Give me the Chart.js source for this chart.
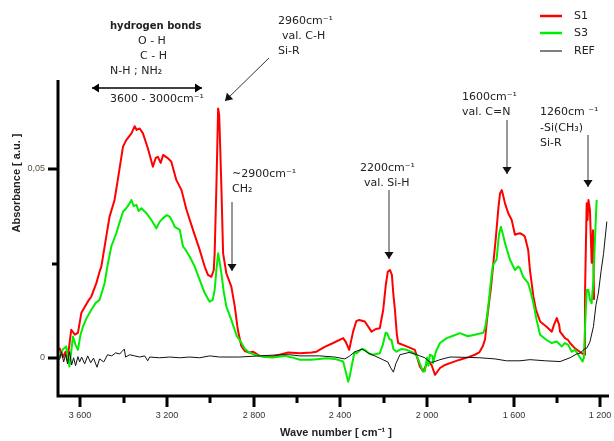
<!DOCTYPE html>
<html>
<head>
<meta charset="utf-8">
<script src="https://cdn.jsdelivr.net/npm/chart.js@4.4.1/dist/chart.umd.min.js"></script>
<style>
  html, body { margin: 0; padding: 0; background: #fff; }
  canvas { display: block; }
</style>
</head>
<body>
<canvas id="ir-chart" width="614" height="441"></canvas>
<script>
// values (wave number in cm-1, absorbance in a.u.)
const s1Wave = [3696,3680,3668,3659,3642,3625,3611,3595,3565,3549,3526,3511,3503,3483,3465,3442,3426,3403,3388,3364,3349,3340,3326,3311,3288,3265,3252,3242,3229,3218,3195,3180,3157,3133,3110,3080,3049,3026,3011,2995,2984,2980,2972,2964,2959,2954,2949,2941,2926,2903,2887,2873,2857,2841,2821,2803,2772,2713,2641,2587,2533,2510,2472,2433,2387,2375,2359,2341,2326,2313,2287,2256,2236,2218,2202,2190,2181,2171,2162,2155,2148,2139,2133,2094,2056,2033,2018,2005,1994,1979,1963,1940,1917,1894,1848,1812,1779,1759,1742,1732,1723,1714,1705,1694,1682,1670,1663,1655,1649,1640,1625,1609,1594,1585,1571,1557,1548,1533,1525,1509,1497,1486,1478,1448,1424,1414,1401,1390,1386,1363,1349,1340,1317,1286,1274,1271,1263,1259,1255,1248,1240,1234,1229];
const s1Abs = [0.0027,0.0003,0.0017,-0.0004,0.0075,0.0062,0.0067,0.012,0.015,0.0163,0.0198,0.0229,0.0242,0.0312,0.0374,0.0418,0.0475,0.0559,0.0576,0.0594,0.0613,0.0603,0.0607,0.0594,0.0554,0.0506,0.0529,0.0532,0.0516,0.0537,0.0528,0.0519,0.0471,0.0444,0.0392,0.0339,0.0286,0.0242,0.022,0.0215,0.0233,0.0277,0.0453,0.066,0.0642,0.055,0.0453,0.0277,0.0224,0.0189,0.0136,0.0075,0.0032,0.0019,0.0015,0.0017,0.0006,0.0004,0.0015,0.0013,0.0015,0.0017,0.003,0.004,0.0053,0.0043,0.0022,0.007,0.0098,0.0101,0.0097,0.007,0.0077,0.0079,0.0128,0.0194,0.0228,0.0233,0.022,0.0167,0.0128,0.0062,0.004,0.0031,0.0022,-0.0022,-0.0035,-0.002,-0.0009,-0.0018,-0.0044,-0.0026,-0.0018,-0.0013,-0.0004,0.0002,0.0009,0.0015,0.0032,0.005,0.0102,0.0145,0.0185,0.025,0.032,0.04,0.0435,0.0444,0.0431,0.0409,0.0383,0.0365,0.0326,0.0328,0.033,0.0326,0.0321,0.0286,0.0233,0.0163,0.0128,0.011,0.0097,0.0083,0.007,0.0088,0.0106,0.0088,0.007,0.0053,0.0048,0.004,0.0026,0.0013,0.0009,0.0163,0.0409,0.0365,0.0418,0.0392,0.0252,0.0338,0.0154];

const s3Wave = [3696,3682,3665,3650,3634,3622,3611,3599,3588,3571,3549,3529,3511,3488,3474,3457,3434,3418,3403,3388,3377,3364,3354,3341,3331,3318,3295,3272,3249,3234,3218,3201,3188,3174,3164,3141,3126,3114,3095,3072,3049,3026,3003,2989,2980,2972,2964,2957,2949,2938,2926,2903,2893,2878,2857,2841,2821,2795,2749,2713,2657,2623,2587,2533,2464,2426,2387,2375,2364,2356,2348,2335,2325,2301,2287,2264,2249,2218,2204,2191,2184,2173,2164,2155,2141,2119,2094,2065,2047,2029,2019,2010,2000,1993,1987,1975,1972,1959,1940,1909,1885,1848,1812,1779,1741,1732,1723,1714,1707,1696,1679,1668,1659,1649,1640,1617,1594,1579,1571,1556,1533,1520,1509,1494,1478,1448,1424,1401,1378,1363,1348,1332,1317,1302,1282,1276,1271,1263,1255,1248,1240,1232,1225,1217];
const s3Abs = [0,0.0022,0.0031,-0.0022,0.0057,0.0035,0.0022,0.0062,0.0083,0.0106,0.0128,0.0146,0.0154,0.0198,0.0246,0.0295,0.033,0.036,0.0387,0.0396,0.0405,0.0418,0.0402,0.0405,0.0389,0.0396,0.0383,0.0365,0.0343,0.036,0.037,0.0378,0.0374,0.036,0.0347,0.0339,0.0295,0.0286,0.0268,0.0242,0.0207,0.0172,0.0149,0.0154,0.018,0.0233,0.0277,0.0254,0.0224,0.0175,0.0136,0.0101,0.0084,0.0059,0.0041,0.0025,0.0015,0.0009,0.0003,0.0002,0.0006,0.0002,-0.0004,-0.0004,0,-0.0002,-0.0009,-0.0036,-0.0062,-0.0047,-0.0022,0.0015,0.0013,0.0024,0.0022,0.0011,0.0009,0.0013,0.0035,0.0067,0.0066,0.005,0.0048,0.0024,0.0017,0.0024,0.0022,0.0015,0.0006,-0.002,-0.0034,-0.0035,0.0001,-0.002,0.0009,0.0006,-0.0013,0.0017,0.004,0.0053,0.0058,0.0066,0.0058,0.0062,0.0067,0.008,0.0111,0.0154,0.0194,0.0246,0.026,0.0326,0.0347,0.0326,0.0304,0.026,0.0233,0.0242,0.0238,0.0215,0.0198,0.0172,0.0145,0.0101,0.0062,0.0048,0.004,0.0044,0.0031,0.004,0.0035,0.0017,0.0022,0.0009,-0.0009,0.0001,0.0075,0.018,0.018,0.0154,0.0145,0.0207,0.0312,0.0418];

const refWave = [3696,3687,3677,3668,3659,3650,3640,3631,3622,3611,3603,3594,3580,3566,3552,3539,3523,3511,3492,3474,3455,3437,3418,3409,3397,3391,3372,3349,3326,3303,3289,3280,3234,3188,3141,3095,3049,3003,2957,2864,2772,2680,2633,2587,2495,2426,2379,2356,2333,2299,2273,2241,2204,2181,2167,2155,2144,2125,2083,2056,2033,2010,1987,1975,1940,1894,1812,1756,1686,1633,1571,1525,1453,1386,1340,1309,1294,1273,1263,1248,1232,1220,1209,1197,1185,1170];
const refAbs = [-0.0004,0.0017,-0.001,0.0009,-0.0015,0.0017,-0.0018,0.0001,-0.002,0.0004,-0.001,0.0003,-0.0015,0.0006,-0.0012,0,-0.0024,-0.0002,-0.001,0.0009,0.0006,0.0014,0.0011,0.0017,0.0024,0.0003,0.0009,0.0006,0.0003,0.0006,-0.0007,0.0003,0.0001,0.0003,0.0001,0.0003,0.0001,0.0006,0.0003,0.0003,0.0006,0.0009,0.0009,0.0006,0.0006,0.0003,-0.0002,0.0006,0.0017,0.0024,0.0014,0.0006,-0.0004,-0.001,-0.0026,-0.0037,-0.0015,0.0009,0.0015,0.0011,0.0006,0.0001,-0.001,-0.0011,-0.0004,0.0003,0.0002,0.0001,-0.0002,-0.0007,-0.0007,-0.0004,-0.0007,-0.0009,0.0001,0.0011,0.0013,0.0024,0.0026,0.0043,0.0083,0.0141,0.0172,0.0228,0.0277,0.0361];

const xMajorTicks = [3600, 3200, 2800, 2400, 2000, 1600, 1200];
const xTickLabels = ["3 600", "3 200", "2 800", "2 400", "2 000", "1 600", "1 200"];
const xMinorTicks = [3400, 3000, 2600, 2200, 1800, 1400];
const yMajorTicks = [0, 0.05];
const yTickLabels = ["0", "0,05"];
const yMinorTicks = [0.025];

function toPoints(wave, abs) {
  return wave.map((w, i) => ({ x: w, y: abs[i] }));
}

const ANNOT_FONT = "11px 'DejaVu Sans'";
const TICK_FONT = "9px 'Liberation Sans'";
const TITLE_FONT = "bold 11px 'Liberation Sans'";

function arrow(ctx, x1, y1, x2, y2, head, bothEnds) {
  ctx.beginPath();
  ctx.moveTo(x1, y1);
  ctx.lineTo(x2, y2);
  ctx.stroke();
  const tip = (tx, ty, fx, fy) => {
    const a = Math.atan2(ty - fy, tx - fx);
    ctx.beginPath();
    ctx.moveTo(tx, ty);
    ctx.lineTo(tx - head * Math.cos(a) + head * 0.65 * Math.sin(a), ty - head * Math.sin(a) - head * 0.65 * Math.cos(a));
    ctx.lineTo(tx - head * Math.cos(a) - head * 0.65 * Math.sin(a), ty - head * Math.sin(a) + head * 0.65 * Math.cos(a));
    ctx.closePath();
    ctx.fill();
  };
  tip(x2, y2, x1, y1);
  if (bothEnds) tip(x1, y1, x2, y2);
}

// axes, ticks, titles, legend and notes are drawn by hand on top of the chart
const decorPlugin = {
  id: "irDecor",
  afterDraw(chart) {
    const { ctx, chartArea: a, scales: { x, y } } = chart;
    ctx.save();

    // axis lines
    ctx.strokeStyle = "#000";
    ctx.lineWidth = 3;
    ctx.beginPath();
    ctx.moveTo(a.left, a.top);
    ctx.lineTo(a.left, a.bottom);
    ctx.lineTo(a.right, a.bottom);
    ctx.stroke();

    // x ticks
    ctx.font = TICK_FONT;
    ctx.fillStyle = "#333";
    ctx.textAlign = "center";
    ctx.textBaseline = "middle";
    xMajorTicks.forEach((v, i) => {
      const px = Math.round(x.getPixelForValue(v));
      ctx.beginPath(); ctx.moveTo(px, a.bottom); ctx.lineTo(px, a.bottom + 11); ctx.stroke();
      ctx.fillText(xTickLabels[i], px, a.bottom + 20);
    });
    xMinorTicks.forEach((v) => {
      const px = Math.round(x.getPixelForValue(v));
      ctx.beginPath(); ctx.moveTo(px, a.bottom); ctx.lineTo(px, a.bottom + 7); ctx.stroke();
    });

    // y ticks
    ctx.textAlign = "right";
    ctx.fillStyle = "#5a5040";
    yMajorTicks.forEach((v, i) => {
      const py = Math.round(y.getPixelForValue(v));
      ctx.beginPath(); ctx.moveTo(a.left, py); ctx.lineTo(a.left - 10, py); ctx.stroke();
      ctx.fillText(yTickLabels[i], a.left - 13, py);
    });
    yMinorTicks.forEach((v) => {
      const py = Math.round(y.getPixelForValue(v));
      ctx.beginPath(); ctx.moveTo(a.left, py); ctx.lineTo(a.left - 6, py); ctx.stroke();
    });

    // axis titles
    ctx.fillStyle = "#222";
    ctx.font = TITLE_FONT;
    ctx.textAlign = "center";
    ctx.fillText("Wave number [ cm⁻¹ ]", 336, 433);
    ctx.save();
    ctx.translate(17, 183);
    ctx.rotate(-Math.PI / 2);
    ctx.fillText("Absorbance [ a.u. ]", 0, 0);
    ctx.restore();

    // legend
    const legend = [["S1", "#ff0000", 2.5, 16], ["S3", "#00ee00", 2.5, 33], ["REF", "#555", 1.5, 51]];
    ctx.textAlign = "left";
    ctx.font = ANNOT_FONT;
    legend.forEach(([name, col, lw, ly]) => {
      ctx.strokeStyle = col;
      ctx.lineWidth = lw;
      ctx.beginPath(); ctx.moveTo(540, ly); ctx.lineTo(562, ly); ctx.stroke();
      ctx.fillStyle = "#222";
      ctx.fillText(name, 574, ly);
    });

    // notes
    ctx.fillStyle = "#222";
    ctx.font = "bold 10px 'DejaVu Sans'";
    ctx.fillText("hydrogen bonds", 110, 26);
    ctx.font = ANNOT_FONT;
    const notes = [
      ["O - H", 138, 41], ["C - H", 140, 56], ["N-H ; NH₂", 110, 71],
      ["3600 - 3000cm⁻¹", 110, 99],
      ["2960cm⁻¹", 278, 21], ["val. C-H", 282, 36], ["Si-R", 278, 51],
      ["~2900cm⁻¹", 232, 174], ["CH₂", 232, 189],
      ["2200cm⁻¹", 360, 168], ["val. Si-H", 364, 183],
      ["1600cm⁻¹", 462, 97], ["val. C=N", 462, 112],
      ["1260cm ⁻¹", 540, 112], ["-Si(CH₃)", 540, 128], ["Si-R", 540, 143]
    ];
    notes.forEach(([t, nx, ny]) => ctx.fillText(t, nx, ny));

    // arrows
    ctx.strokeStyle = "#000";
    ctx.fillStyle = "#000";
    ctx.lineWidth = 1.5;
    arrow(ctx, 92, 88, 202, 88, 7, true);
    ctx.strokeStyle = "#333";
    ctx.fillStyle = "#111";
    ctx.lineWidth = 1;
    arrow(ctx, 269, 58, 225, 101, 7, false);
    arrow(ctx, 232, 202, 232, 271, 7, false);
    arrow(ctx, 389, 190, 389, 259, 7, false);
    arrow(ctx, 507, 120, 507, 174, 7, false);
    arrow(ctx, 588, 135, 588, 187, 7, false);

    ctx.restore();
  }
};

const ctx = document.getElementById("ir-chart").getContext("2d");
new Chart(ctx, {
  type: "line",
  data: {
    datasets: [
      { label: "REF", data: toPoints(refWave, refAbs), borderColor: "#111", borderWidth: 1 },
      { label: "S3", data: toPoints(s3Wave, s3Abs), borderColor: "#00ee00", borderWidth: 2 },
      { label: "S1", data: toPoints(s1Wave, s1Abs), borderColor: "#ff0000", borderWidth: 2 }
    ]
  },
  options: {
    responsive: false,
    animation: false,
    layout: { padding: { left: 58, right: 5, top: 80, bottom: 45 } },
    elements: { point: { radius: 0 }, line: { tension: 0, borderJoinStyle: "round" } },
    scales: {
      x: { type: "linear", reverse: true, min: 1160, max: 3703, display: false },
      y: { type: "linear", min: -0.01, max: 0.0735, display: false }
    },
    plugins: { legend: { display: false }, tooltip: { enabled: false } }
  },
  plugins: [decorPlugin]
});
</script>
</body>
</html>
